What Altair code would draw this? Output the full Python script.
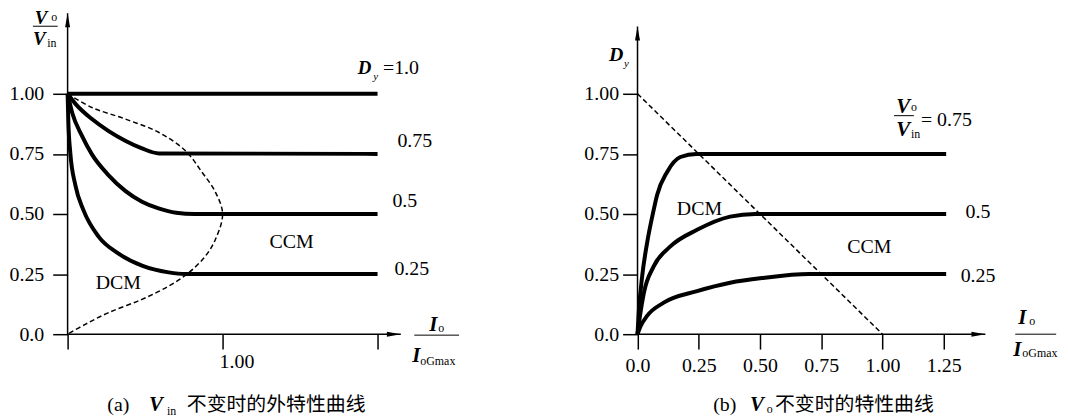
import altair as alt
import pandas as pd

# ---------------- values ----------------
# (a) V_in constant : Vo/Vin versus Io/IoGmax for several D_y
A_D100_X = [0.0, 2.0]
A_D100_Y = [1.0, 1.0]
A_D075_X = [0.0, 0.055, 0.157, 0.265, 0.372, 0.48, 0.59, 2.0]
A_D075_Y = [1.0, 0.955, 0.895, 0.845, 0.805, 0.773, 0.752, 0.75]
A_D050_X = [0.0, 0.03, 0.092, 0.157, 0.265, 0.372, 0.48, 0.587, 0.70, 0.82, 2.0]
A_D050_Y = [1.0, 0.92, 0.826, 0.748, 0.661, 0.596, 0.551, 0.523, 0.505, 0.5, 0.5]
A_D025_X = [0.0, 0.005, 0.017, 0.05, 0.103, 0.2, 0.329, 0.48, 0.652, 0.76, 2.0]
A_D025_Y = [1.0, 0.88, 0.757, 0.62, 0.515, 0.406, 0.335, 0.285, 0.257, 0.25, 0.25]
# DCM / CCM boundary (dashed)
A_BOUND_X = [0.0, 0.157, 0.372, 0.587, 0.759, 0.866, 0.953, 1.0, 0.953, 0.888, 0.78, 0.652, 0.48, 0.265, 0.114, 0.0]
A_BOUND_Y = [1.0, 0.943, 0.895, 0.84, 0.764, 0.675, 0.592, 0.5, 0.393, 0.324, 0.255, 0.2, 0.145, 0.09, 0.041, 0.0]

# (b) V_o constant : D_y versus Io/IoGmax for several Vo/Vin
B_V075_X = [0.0, 0.005, 0.019, 0.039, 0.066, 0.08, 0.121, 0.175, 0.24, 1.26]
B_V075_Y = [0.0, 0.09, 0.241, 0.379, 0.517, 0.579, 0.675, 0.737, 0.75, 0.75]
B_V050_X = [0.0, 0.01, 0.026, 0.066, 0.134, 0.243, 0.378, 0.48, 1.26]
B_V050_Y = [0.0, 0.076, 0.172, 0.282, 0.365, 0.434, 0.489, 0.5, 0.5]
B_V025_X = [0.0, 0.013, 0.039, 0.107, 0.243, 0.378, 0.513, 0.70, 1.26]
B_V025_Y = [0.0, 0.034, 0.076, 0.131, 0.179, 0.214, 0.234, 0.25, 0.25]
B_BOUND_X = [0.0, 1.0]
B_BOUND_Y = [1.0, 0.0]

# ticks
A_XTICKS = [0, 1, 2]
A_YTICKS = [0, 0.25, 0.5, 0.75, 1.0]
B_XTICKS = [0, 0.25, 0.5, 0.75, 1.0, 1.25]
B_YTICKS = [0, 0.25, 0.5, 0.75, 1.0]

# axis extents (arrow tips)
A_X_END, A_Y_END = 2.15, 1.3347
B_X_END, B_Y_END = 1.42, 1.28

# texts
A_LEVEL_TXT = ["=1.0", "0.75", "0.5", "0.25"]
B_LEVEL_TXT = ["= 0.75", "0.5", "0.25"]
MODE_TXT = ["DCM", "CCM"]
CAP_A = ["(a)", "V", "in", "不变时的外特性曲线"]
CAP_B = ["(b)", "V", "o", "不变时的特性曲线"]

# ---------------- layout ----------------
W, H = 992, 323
A_PX, B_PX, Y_PX = 156.0, 246.6, 242.0
B_OFF = 573.7
A_DOM = [0, W / A_PX]
B_DOM = [-B_OFF / B_PX, (W - B_OFF) / B_PX]
Y_DOM = [0, H / Y_PX]
SERIF = "Liberation Serif"
CJK = "Noto Sans CJK SC"


def X(panel, axis=None, field="x"):
    dom = A_DOM if panel == "a" else B_DOM
    return alt.X(f"{field}:Q", scale=alt.Scale(domain=dom, nice=False, zero=False), axis=axis)


def Y(axis=None, field="y"):
    return alt.Y(f"{field}:Q", scale=alt.Scale(domain=Y_DOM, nice=False, zero=False), axis=axis)


def series(pairs):
    rows = []
    for name, xs, ys in pairs:
        for i, (a, b) in enumerate(zip(xs, ys)):
            rows.append({"k": name, "o": i, "x": a, "y": b})
    return pd.DataFrame(rows)


def curves(panel, pairs):
    return alt.Chart(series(pairs)).mark_line(
        color="black", strokeWidth=4, interpolate="monotone", strokeJoin="round", strokeCap="butt"
    ).encode(x=X(panel), y=Y(), detail="k:N", order="o:Q")


def dashed(panel, xs, ys, interp):
    return alt.Chart(series([("b", xs, ys)])).mark_line(
        color="black", strokeWidth=1.5, strokeDash=[5, 3], interpolate=interp
    ).encode(x=X(panel), y=Y(), order="o:Q")


def texts(panel, xs, ys, ts, size, align="left", style="normal", weight="normal", font=SERIF):
    df = pd.DataFrame({"x": xs, "y": ys, "t": ts})
    return alt.Chart(df).mark_text(
        align=align, baseline="alphabetic", font=font, fontSize=size,
        fontStyle=style, fontWeight=weight, color="black"
    ).encode(x=X(panel), y=Y(), text="t:N")


def bars(panel, x1, x2, yv):
    df = pd.DataFrame({"x": x1, "x2": x2, "y": yv})
    return alt.Chart(df).mark_rule(color="black", strokeWidth=1).encode(
        x=X(panel), x2="x2:Q", y=Y())


LABEL_EXPR = "datum.value == 0 ? '0.0' : format(datum.value, '.2f')"
common_axis = dict(domain=False, grid=False, title=None, ticks=True, tickSize=15,
                   tickWidth=1.5, tickColor="black", labelFont=SERIF, labelFontSize=20,
                   labelColor="black")


def axes(panel, xend, yend, xaxis, yaxis):
    df = pd.DataFrame({"x": [0, 0], "x2": [0, xend], "y": [0, 0], "y2": [yend, 0]})
    rules = alt.Chart(df).mark_rule(color="black", strokeWidth=1.5).encode(
        x=X(panel, axis=xaxis), x2="x2:Q", y=Y(axis=yaxis), y2="y2:Q")
    arr = pd.DataFrame({
        "x": [0, xend], "y": [yend, 0],
        "s": ["M0,0L0.36,2L-0.36,2Z", "M0,0L-2,-0.36L-2,0.36Z"],
    })
    heads = alt.Chart(arr).mark_point(filled=True, color="black", opacity=1, size=196, strokeWidth=0).encode(
        x=X(panel), y=Y(), shape=alt.Shape("s:N", scale=None, legend=None))
    return [rules, heads]


a_xaxis = alt.Axis(orient="bottom", values=A_XTICKS, labelExpr="datum.value == 1 ? '1.00' : ''",
                   labelOffset=14, labelPadding=3, **common_axis)
a_yaxis = alt.Axis(orient="left", values=A_YTICKS, labelExpr=LABEL_EXPR, labelPadding=9, **common_axis)
b_xaxis = alt.Axis(orient="bottom", values=B_XTICKS, labelExpr=LABEL_EXPR, labelPadding=7, **common_axis)
b_yaxis = alt.Axis(orient="left", values=B_YTICKS, labelExpr=LABEL_EXPR, labelPadding=4,
                   offset=-B_OFF, **common_axis)

layers = []
layers += axes("a", A_X_END, A_Y_END, a_xaxis, a_yaxis)
layers += axes("b", B_X_END, B_Y_END, b_xaxis, b_yaxis)

layers.append(curves("a", [("1.0", A_D100_X, A_D100_Y), ("0.75", A_D075_X, A_D075_Y),
                           ("0.5", A_D050_X, A_D050_Y), ("0.25", A_D025_X, A_D025_Y)]))
layers.append(dashed("a", A_BOUND_X, A_BOUND_Y, "catmull-rom"))
layers.append(curves("b", [("0.75", B_V075_X, B_V075_Y), ("0.5", B_V050_X, B_V050_Y),
                           ("0.25", B_V025_X, B_V025_Y)]))
layers.append(dashed("b", B_BOUND_X, B_BOUND_Y, "linear"))

# ---- panel (a) annotations ----
layers.append(texts("a", [2.035, 2.128, 2.096, 2.109], [1.083, 0.777, 0.529, 0.248], A_LEVEL_TXT, 20))
layers.append(texts("a", [0.327, 1.446], [0.186, 0.360], MODE_TXT, 20, align="center"))
layers.append(texts("a", [1.872], [1.083], ["D"], 19, style="italic", weight="bold"))
layers.append(texts("a", [1.972], [1.058], ["y"], 11, style="italic"))
# y title Vo / Vin
layers.append(texts("a", [-0.212, -0.224], [1.289, 1.2025], ["V", "V"], 19, style="italic", weight="bold"))
layers.append(texts("a", [-0.105, -0.132], [1.302, 1.196], ["o", "in"], 12))
# x title and caption letters
layers.append(texts("a", [2.333, 2.224, 0.526], [0.012, -0.116, -0.318],
                    ["I", "I", CAP_A[1]], 21, style="italic", weight="bold"))
layers.append(texts("a", [2.391, 2.276, 0.641], [0.008, -0.128, -0.335],
                    ["o", "oGmax", CAP_A[2]], 12))
layers.append(bars("a", [-0.224, 2.237], [-0.064, 2.526], [1.281, -0.004]))
layers.append(texts("a", [0.256], [-0.318], [CAP_A[0]], 20))
layers.append(texts("a", [0.769], [-0.318], [CAP_A[3]], 20, font=CJK))

# ---- panel (b) annotations ----
layers.append(texts("b", [1.157, 1.339, 1.319], [0.868, 0.483, 0.219], B_LEVEL_TXT, 20))
layers.append(texts("b", [0.253, 0.946], [0.496, 0.339], MODE_TXT, 20, align="center"))
layers.append(texts("b", [-0.116], [1.136], ["D"], 20, style="italic", weight="bold"))
layers.append(texts("b", [-0.055], [1.112], ["y"], 11, style="italic"))
layers.append(texts("b", [1.056, 1.056, 1.554, 1.534, 0.459], [0.921, 0.826, 0.041, -0.091, -0.318],
                    ["V", "V", "I", "I", CAP_B[1]], 21, style="italic", weight="bold"))
layers.append(texts("b", [1.116, 1.116, 1.599, 1.571, 0.528], [0.930, 0.818, 0.037, -0.095, -0.326],
                    ["o", "in", "o", "oGmax", CAP_B[2]], 12))
layers.append(bars("b", [1.047, 1.542], [1.128, 1.709], [0.909, 0.0]))
layers.append(texts("b", [0.309], [-0.318], [CAP_B[0]], 20))
layers.append(texts("b", [0.561], [-0.318], [CAP_B[3]], 20, font=CJK))

chart = (
    alt.layer(*layers)
    .resolve_scale(x="independent", y="independent")
    .properties(
        width=W, height=H,
        autosize=alt.AutoSizeParams(type="none"),
        padding={"left": 60, "top": 4, "right": 7, "bottom": 82},
        background="white",
    )
    .configure_view(stroke=None)
)

chart.save("out.html", embed_options={"renderer": "svg", "actions": False})
